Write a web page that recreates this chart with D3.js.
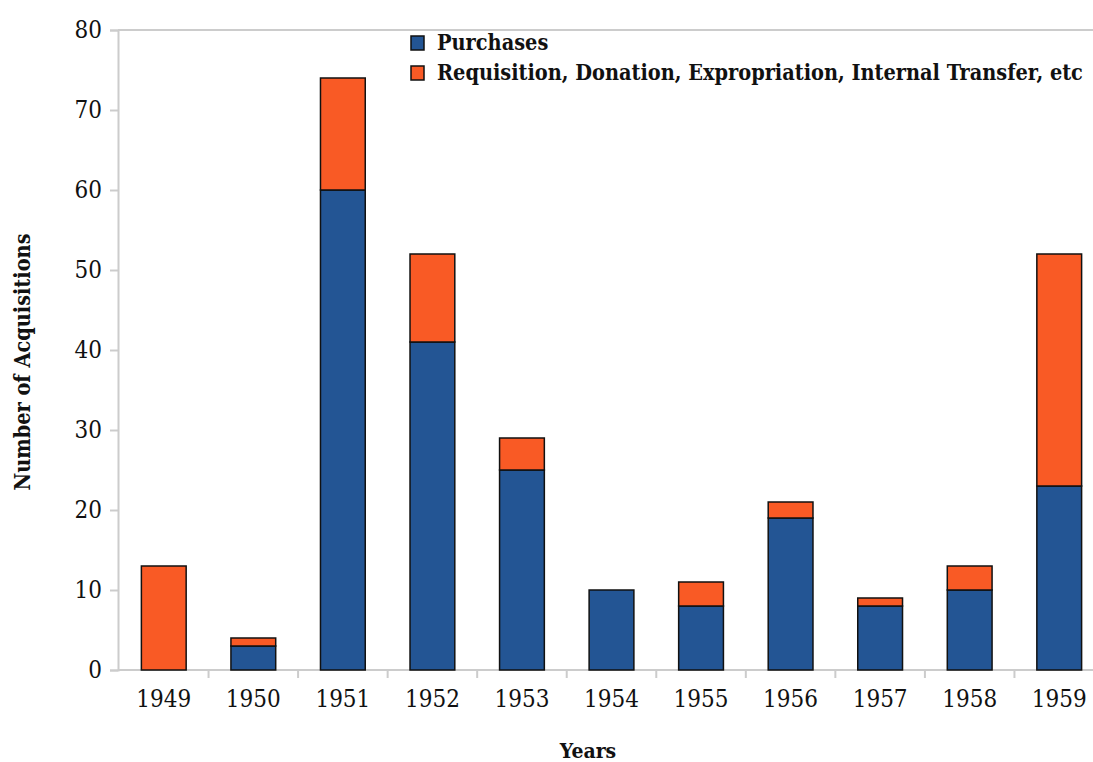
<!DOCTYPE html>
<html>
<head>
<meta charset="utf-8">
<script src="https://cdn.jsdelivr.net/npm/d3@7"></script>
<style>
  body { margin: 0; background: #fff; }
  text { font-family: "DejaVu Serif Condensed", "DejaVu Serif", "Liberation Serif", serif; font-stretch: condensed; fill: #111; }
</style>
</head>
<body>
<script>
// data
var years = ["1949", "1950", "1951", "1952", "1953", "1954", "1955", "1956", "1957", "1958", "1959"];
var purchases = [0, 3, 60, 41, 25, 10, 8, 19, 8, 10, 23];
var otherAcq = [13, 1, 14, 11, 4, 0, 3, 2, 1, 3, 29];
var seriesNames = ["Purchases", "Requisition, Donation, Expropriation, Internal Transfer, etc"];
var yTicks = [0, 10, 20, 30, 40, 50, 60, 70, 80];

var colors = ["#235594", "#f95a25"];

var W = 1093, H = 762;
var margin = {top: 30, right: -10, bottom: 92, left: 118},
    width = W - margin.left - margin.right,
    height = H - margin.top - margin.bottom;

var rows = years.map(function(y, i) { return {year: y, p: purchases[i], o: otherAcq[i]}; });
var stack = d3.stack().keys(["p", "o"])(rows);

var svg = d3.select("body").append("svg")
    .attr("width", W)
    .attr("height", H)
  .append("g")
    .attr("transform", "translate(" + margin.left + "," + margin.top + ")");

var x = d3.scaleBand().domain(years).range([1, width + 1]).paddingInner(0.5).paddingOuter(0.25);
var y = d3.scaleLinear().domain([0, 80]).range([height, 0]);

// top border line
svg.append("line")
    .attr("x1", 0).attr("x2", width)
    .attr("y1", 0).attr("y2", 0)
    .attr("stroke", "#cccccc").attr("stroke-width", 2);

// y axis
var yAxis = svg.append("g")
    .call(d3.axisLeft(y).tickValues(yTicks).tickSize(8).tickPadding(8));
yAxis.selectAll("line, path").attr("stroke", "#cccccc").attr("stroke-width", 2);
yAxis.selectAll("text").style("font-size", "24px").attr("fill", "#111");

// x axis, ticks sit between the bands
var xg = svg.append("g").attr("transform", "translate(0," + height + ")");
xg.append("line").attr("x1", 0).attr("x2", width)
    .attr("stroke", "#cccccc").attr("stroke-width", 2);
var gap = (x.step() - x.bandwidth()) / 2;
xg.selectAll(".bt")
    .data(years.slice(1))
  .enter().append("line")
    .attr("x1", function(d) { return x(d) - gap; })
    .attr("x2", function(d) { return x(d) - gap; })
    .attr("y1", 0).attr("y2", 8)
    .attr("stroke", "#cccccc").attr("stroke-width", 2);
xg.selectAll(".lbl")
    .data(years)
  .enter().append("text")
    .attr("x", function(d) { return x(d) + x.bandwidth() / 2; })
    .attr("y", 37)
    .attr("text-anchor", "middle")
    .style("font-size", "24px")
    .text(function(d) { return d; });

// bars
svg.selectAll(".layer")
    .data(stack)
  .enter().append("g")
    .attr("fill", function(d, i) { return colors[i]; })
  .selectAll("rect")
    .data(function(d) { return d.filter(function(s) { return s[1] > s[0]; }); })
  .enter().append("rect")
    .attr("x", function(d) { return x(d.data.year); })
    .attr("y", function(d) { return y(d[1]); })
    .attr("width", x.bandwidth())
    .attr("height", function(d) { return y(d[0]) - y(d[1]); })
    .attr("stroke", "#111")
    .attr("stroke-width", 1.5);

// legend
var legend = svg.append("g").attr("transform", "translate(293,6)");
seriesNames.forEach(function(name, i) {
  var g = legend.append("g").attr("transform", "translate(0," + (i * 30) + ")");
  g.append("rect").attr("x", 0).attr("y", 0).attr("width", 13).attr("height", 14)
    .attr("fill", colors[i]).attr("stroke", "#111").attr("stroke-width", 1.5);
  g.append("text").attr("x", 26).attr("y", 14)
    .style("font-size", "21.5px").style("font-weight", "bold")
    .text(name);
});

// axis titles
svg.append("text")
    .attr("text-anchor", "middle")
    .attr("x", 470).attr("y", height + 88)
    .style("font-size", "21px").style("font-weight", "bold")
    .text("Years");
svg.append("text")
    .attr("text-anchor", "middle")
    .attr("transform", "translate(-88," + (height / 2 + 12) + ")rotate(-90)")
    .style("font-size", "21.5px").style("font-weight", "bold")
    .text("Number of Acquisitions");
</script>
</body>
</html>
